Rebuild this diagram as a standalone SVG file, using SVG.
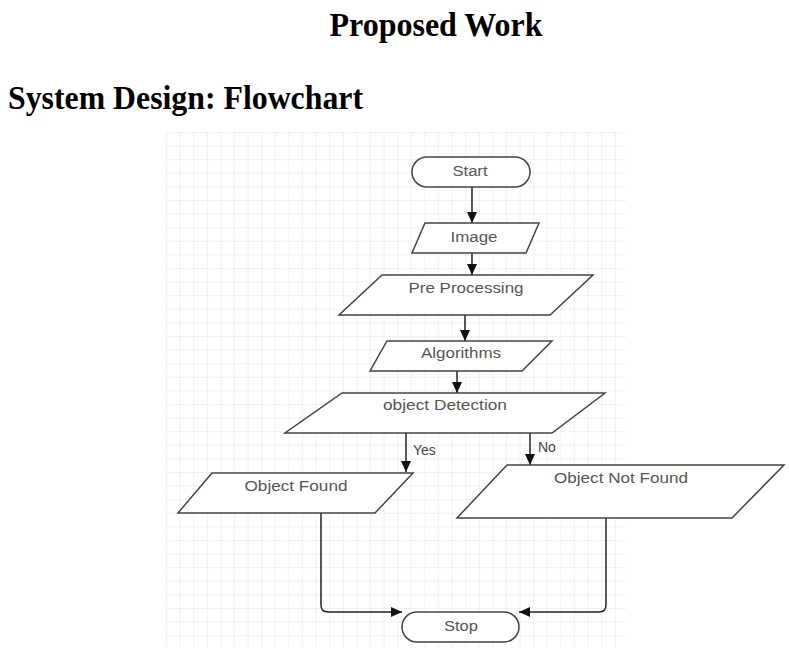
<svg xmlns="http://www.w3.org/2000/svg" width="789" height="650" viewBox="0 0 789 650">
<defs>
<pattern id="grid" x="166" y="132" width="13.6" height="13.6" patternUnits="userSpaceOnUse">
<path d="M 13.6 0 L 0 0 0 13.6" fill="none" stroke="#e4e4e4" stroke-width="1"/>
</pattern>
<marker id="arr" markerWidth="11" markerHeight="10" refX="11" refY="5" orient="auto" markerUnits="userSpaceOnUse">
<path d="M0,0 L11,5 L0,10 Z" fill="#111"/>
</marker>
<style>
.title{font-family:"Liberation Serif","Times New Roman",serif;font-weight:bold;font-size:33px;fill:#000}
.shape{fill:#fff;stroke:#444;stroke-width:1.5}
.lbl{font-family:"Liberation Sans",Arial,sans-serif;font-size:14px;fill:#555;text-anchor:middle}
.edge{fill:none;stroke:#222;stroke-width:1.5}
.elbl{font-family:"Liberation Sans",Arial,sans-serif;font-size:14px;fill:#444}
</style>
</defs>
<rect width="789" height="650" fill="#fff"/>
<text class="title" x="436" y="36" text-anchor="middle" textLength="213" lengthAdjust="spacingAndGlyphs">Proposed Work</text>
<text class="title" x="8" y="109" textLength="355" lengthAdjust="spacingAndGlyphs">System Design: Flowchart</text>
<rect x="166" y="132" width="460" height="516" fill="url(#grid)"/>
<g id="connectors">
<line class="edge" x1="472" y1="187" x2="472" y2="223" marker-end="url(#arr)"/>
<line class="edge" x1="472" y1="253" x2="472" y2="275" marker-end="url(#arr)"/>
<line class="edge" x1="465" y1="315" x2="465" y2="341" marker-end="url(#arr)"/>
<line class="edge" x1="457" y1="371" x2="457" y2="393" marker-end="url(#arr)"/>
<line class="edge" x1="406" y1="433" x2="406" y2="472" marker-end="url(#arr)"/>
<text class="elbl" x="413" y="455">Yes</text>
<line class="edge" x1="530" y1="433" x2="530" y2="465" marker-end="url(#arr)"/>
<text class="elbl" x="538" y="452">No</text>
<path class="edge" d="M321,513 L321,605 Q321,612 328,612 L402,612" marker-end="url(#arr)"/>
<path class="edge" d="M606,518 L606,605 Q606,612 599,612 L519,612" marker-end="url(#arr)"/>
</g>
<g id="start">
<rect class="shape" x="412" y="157" width="118" height="30" rx="15"/>
<text class="lbl" x="470" y="176" textLength="35" lengthAdjust="spacingAndGlyphs">Start</text>
</g>
<g id="image">
<polygon class="shape" points="425,223 539,223 526,253 412,253"/>
<text class="lbl" x="474" y="242" textLength="47" lengthAdjust="spacingAndGlyphs">Image</text>
</g>
<g id="preprocessing">
<polygon class="shape" points="382,275 593,275 550,315 339,315"/>
<text class="lbl" x="466" y="293" textLength="115" lengthAdjust="spacingAndGlyphs">Pre Processing</text>
</g>
<g id="algorithms">
<polygon class="shape" points="387,341 552,341 522,371 370,371"/>
<text class="lbl" x="461" y="358" textLength="80" lengthAdjust="spacingAndGlyphs">Algorithms</text>
</g>
<g id="detection">
<polygon class="shape" points="342,393 605,393 552,433 285,433"/>
<text class="lbl" x="445" y="410" textLength="124" lengthAdjust="spacingAndGlyphs">object Detection</text>
</g>
<g id="found">
<polygon class="shape" points="212,473 413,473 375,513 178,513"/>
<text class="lbl" x="296" y="491" textLength="103" lengthAdjust="spacingAndGlyphs">Object Found</text>
</g>
<g id="notfound">
<polygon class="shape" points="507,465 784,465 732,518 457,518"/>
<text class="lbl" x="621" y="483" textLength="134" lengthAdjust="spacingAndGlyphs">Object Not Found</text>
</g>
<g id="stop">
<rect class="shape" x="402" y="612" width="117" height="30" rx="15"/>
<text class="lbl" x="461" y="631" textLength="34" lengthAdjust="spacingAndGlyphs">Stop</text>
</g>
</svg>
